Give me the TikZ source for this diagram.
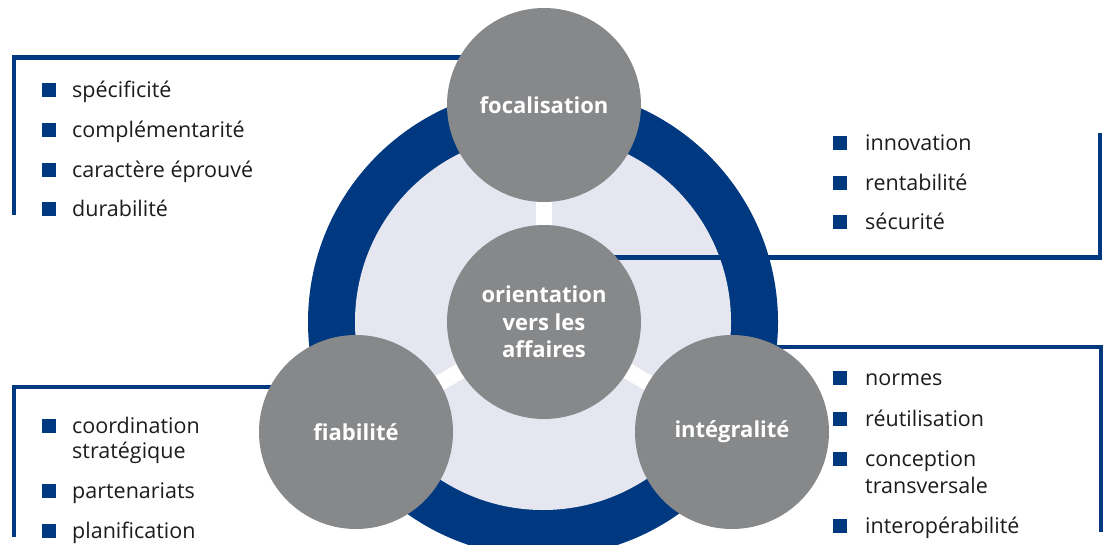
\documentclass[tikz,border=0pt]{standalone}
\usepackage{fontspec}
\setmainfont{Open Sans}
\definecolor{blueC}{RGB}{0,57,128}
\definecolor{grayC}{RGB}{135,136,138}
\definecolor{lavC}{RGB}{230,230,240}
\definecolor{txtC}{RGB}{28,28,28}
\tikzset{
  bigcirc/.style={circle, fill=grayC, minimum size=194pt, inner sep=0pt, text=white,
    font=\fontsize{22}{27.5}\selectfont\bfseries, align=center},
  bracket/.style={draw=blueC, line width=4.6pt, line join=miter},
  spoke/.style={draw=white, line width=16pt},
  itemtxt/.style={anchor=base west, inner sep=0pt, text=txtC, font=\fontsize{21.5}{26}\selectfont},
  bul/.style={anchor=south west, fill=blueC, minimum size=13.5pt, inner sep=0pt}
}
\begin{document}
\begin{tikzpicture}[x=1pt,y=-1pt]
\useasboundingbox (0,0) rectangle (1105,544);
% ring
\fill[blueC] (543,322) circle (235);
\fill[lavC] (543,322) circle (188);
% coordinates of circles
\coordinate (pC) at (544,322);
\coordinate (pF) at (544,105);
\coordinate (pB) at (356,432);
\coordinate (pI) at (732,432);
% spokes
\draw[spoke] (pC) -- (pF);
\draw[spoke] (pC) -- (pB);
\draw[spoke] (pC) -- (pI);
% brackets
\coordinate (tlA) at (14,215);
\coordinate (tlB) at (544,57.5);
\draw[bracket] (tlA) |- (tlB);
\coordinate (trA) at (1100,133);
\coordinate (trB) at (544,257.5);
\draw[bracket] (trB) -| (trA);
\coordinate (brA) at (1101,532);
\coordinate (brB) at (740,347);
\draw[bracket] (brB) -| (brA);
\coordinate (blA) at (14,537);
\coordinate (blB) at (356,387);
\draw[bracket] (blA) |- (blB);
% circles
\node[bigcirc] (foc) at (pF) {focalisation};
\node[bigcirc] (ori) at (pC) {orientation\\vers les\\affaires};
\node[bigcirc] (fia) at (pB) {fiabilité};
\node[bigcirc] (int) at (pI) {intégralité};
% top-left list
\node[bul] (b1) at (42,97) {};
\node[itemtxt] (t1) at (72,97) {spécificité};
\node[bul] (b2) at (42,137) {};
\node[itemtxt] (t2) at (72,137) {complémentarité};
\node[bul] (b3) at (42,177) {};
\node[itemtxt] (t3) at (72,177) {caractère éprouvé};
\node[bul] (b4) at (42,216) {};
\node[itemtxt] (t4) at (72,216) {durabilité};
% top-right list
\node[bul] (b5) at (833,150) {};
\node[itemtxt] (t5) at (865,150) {innovation};
\node[bul] (b6) at (833,190) {};
\node[itemtxt] (t6) at (865,190) {rentabilité};
\node[bul] (b7) at (833,229) {};
\node[itemtxt] (t7) at (865,229) {sécurité};
% bottom-right list
\node[bul] (b8) at (833,385) {};
\node[itemtxt] (t8) at (865,385) {normes};
\node[bul] (b9) at (833,426) {};
\node[itemtxt] (t9) at (865,426) {réutilisation};
\node[bul] (b10) at (833,466) {};
\node[itemtxt] (t10) at (865,466) {conception};
\node[itemtxt] (t10b) at (865,493) {transversale};
\node[bul] (b11) at (833,533) {};
\node[itemtxt] (t11) at (865,533) {interopérabilité};
% bottom-left list
\node[bul] (b12) at (42,433) {};
\node[itemtxt] (t12) at (72,433) {coordination};
\node[itemtxt] (t12b) at (72,458) {stratégique};
\node[bul] (b13) at (42,498) {};
\node[itemtxt] (t13) at (72,498) {partenariats};
\node[bul] (b14) at (42,538) {};
\node[itemtxt] (t14) at (72,538) {planification};
\end{tikzpicture}
\end{document}
